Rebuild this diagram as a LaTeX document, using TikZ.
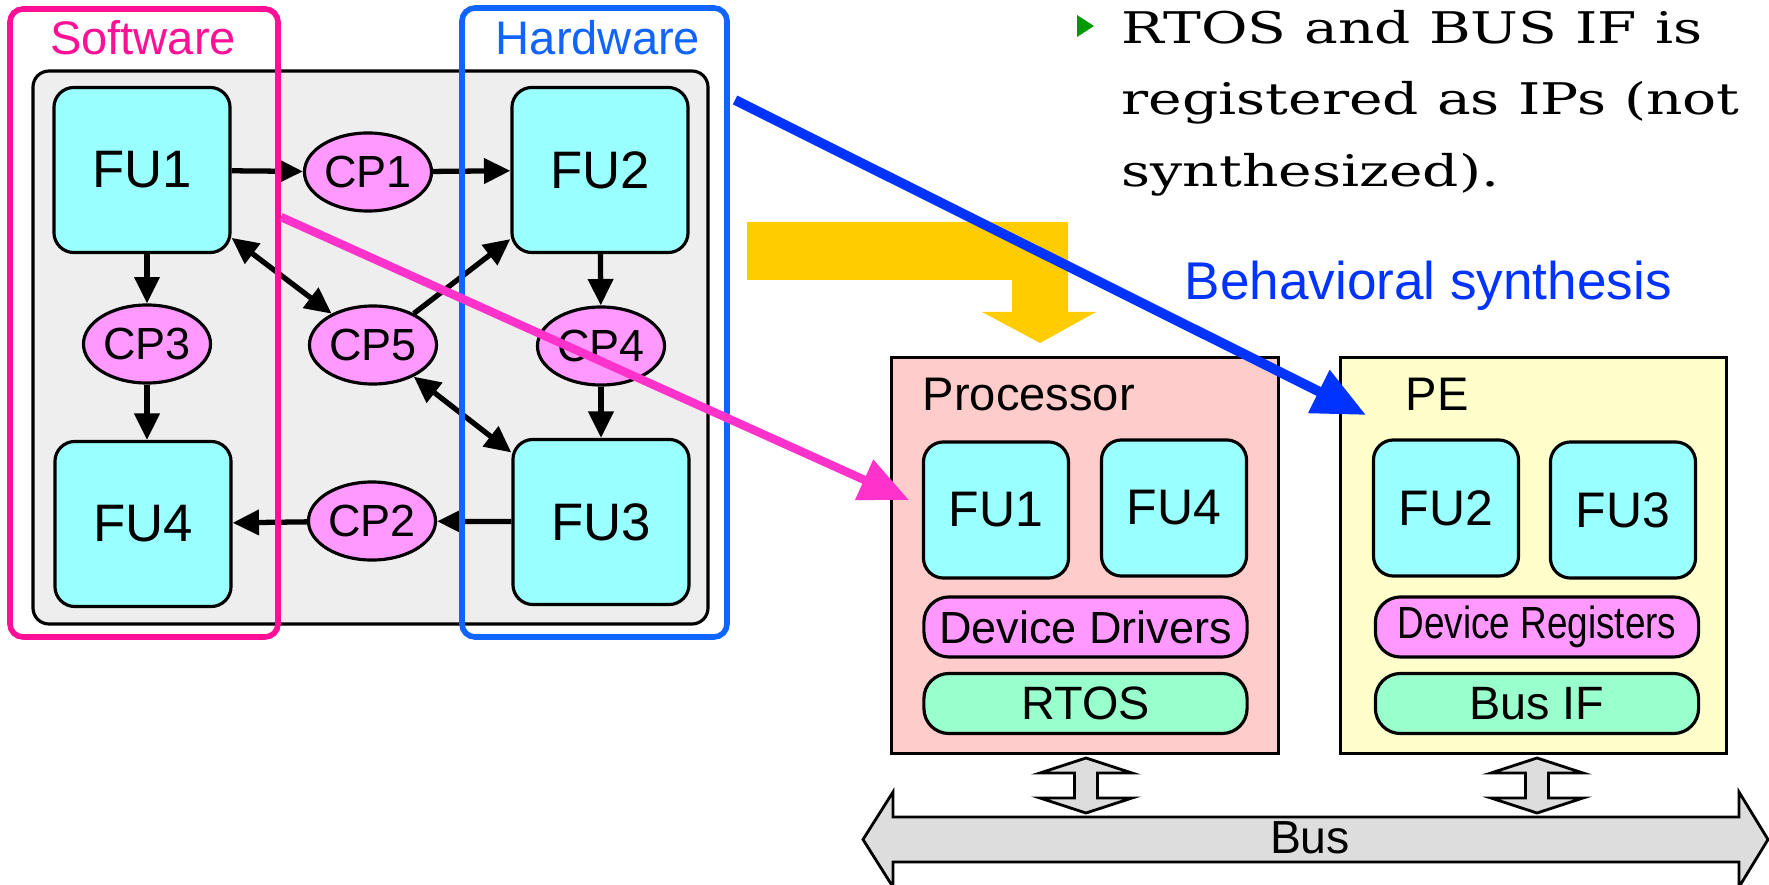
\documentclass[tikz,border=0pt]{standalone}
\usepackage{fontspec}
\usepackage{graphicx}
\setmainfont{Liberation Sans}
\newfontfamily\bodyserif[FakeStretch=1.30]{DejaVu Serif}
\usetikzlibrary{arrows.meta,shapes.geometric}
\definecolor{swpink}{RGB}{255,16,150}
\definecolor{hwblue}{RGB}{16,100,255}
\definecolor{panelgray}{RGB}{238,238,238}
\definecolor{fucyan}{RGB}{153,255,255}
\definecolor{cppink}{RGB}{255,153,255}
\definecolor{arrpink}{RGB}{255,51,204}
\definecolor{arrblue}{RGB}{0,51,255}
\definecolor{synyellow}{RGB}{255,204,0}
\definecolor{procfill}{RGB}{255,204,204}
\definecolor{pefill}{RGB}{255,255,204}
\definecolor{mint}{RGB}{153,255,204}
\definecolor{bulletgreen}{RGB}{0,153,0}
\definecolor{busgray}{RGB}{221,221,221}
\tikzset{
 fubox/.style={draw=black, line width=0.9pt, fill=fucyan, rounded corners=0.2cm, inner sep=0pt},
 bigfu/.style={fubox, minimum width=1.76cm, minimum height=1.65cm, font=\fontsize{15}{18}\selectfont},
 smallfu/.style={fubox, minimum width=1.45cm, minimum height=1.36cm, font=\fontsize{14.2}{17}\selectfont},
 cpell/.style={draw=black, line width=0.9pt, fill=cppink, ellipse, inner sep=0pt, minimum width=1.27cm, minimum height=0.78cm, font=\fontsize{12.8}{15}\selectfont},
 flow/.style={line width=1.5pt, -{Triangle[length=7.5pt,width=7pt]}},
 bothflow/.style={line width=1.5pt, {Triangle[length=7.5pt,width=7pt]}-{Triangle[length=7.5pt,width=7pt]}},
 group/.style={line width=1.6pt, rounded corners=0.13cm},
 bar/.style={draw=black, line width=0.9pt, rounded corners=0.25cm, inner sep=0pt, minimum width=3.23cm, minimum height=0.6cm, font=\fontsize{12.8}{15}\selectfont},
 ppanel/.style={draw=black, line width=0.9pt, inner sep=0pt, minimum width=3.86cm, minimum height=3.95cm},
 lbl/.style={inner sep=0pt, anchor=base west, font=\fontsize{13.4}{16}\selectfont},
 bigarr/.style={draw=black, line width=0.8pt, fill=busgray},
 serifline/.style={inner sep=0pt, anchor=base west, font=\bodyserif\fontsize{12.4}{14}\selectfont},
}
\begin{document}
\begin{tikzpicture}[x=0.01cm,y=-0.01cm]
\useasboundingbox (0,0) rectangle (1769,885);
% left panel
\draw[line width=0.9pt, fill=panelgray, rounded corners=0.16cm] (33,71) rectangle (708,624);
\node[bigfu] (fu1) at (142,170) {FU1};
\node[bigfu] (fu2) at (600,170) {FU2};
\node[bigfu] (fu4) at (143,524) {FU4};
\node[bigfu] (fu3) at (601,522) {FU3};
\node[cpell] (cp1) at (368,172) {CP1};
\node[cpell] (cp3) at (147,344) {CP3};
\node[cpell] (cp5) at (373,345) {CP5};
\node[cpell] (cp4) at (601,346) {CP4};
\node[cpell] (cp2) at (372,521) {CP2};
\draw[flow] (fu1) -- (cp1);
\draw[flow] (cp1) -- (fu2);
\draw[flow] (fu1.south -| cp3) -- (cp3);
\draw[flow] (cp3) -- (fu4.north -| cp3);
\draw[flow] (fu2) -- (cp4);
\draw[flow] (cp4) -- (fu3);
\draw[flow] (fu3) -- (cp2);
\draw[flow] (cp2) -- (fu4);
\draw[bothflow] (fu1) -- (cp5);
\draw[flow] (cp5) -- (fu2);
\draw[bothflow] (cp5) -- (fu3);
\draw[group, swpink] (10,9) rectangle (278,637);
\draw[group, hwblue] (462,8) rectangle (727,637);
\node[inner sep=0pt, anchor=base, text=swpink, font=\fontsize{13.4}{16}\selectfont] (swlabel) at (143,55) {Software};
\node[inner sep=0pt, anchor=base, text=hwblue, font=\fontsize{13.4}{16}\selectfont] (hwlabel) at (598,55) {Hardware};
% bullet text
\fill[bulletgreen] (1077,15) -- (1094,26) -- (1077,37) -- cycle;
\node[serifline] (l1) at (1121,44) {RTOS and BUS IF is};
\node[serifline] (l2) at (1121,115) {registered as IPs (not};
\node[serifline] (l3) at (1121,187) {synthesized).};
% yellow synthesis arrow
\fill[synyellow] (747,222) -- (1068,222) -- (1068,312) -- (1096,312) -- (1040,343) -- (982,312) -- (1012,312) -- (1012,280) -- (747,280) -- cycle;
\node[inner sep=0pt, anchor=base west, text=arrblue, font=\fontsize{15.1}{18}\selectfont] (synth) at (1184,300) {Behavioral synthesis};
% right panel
\node[ppanel, fill=procfill] (proc) at (1085,555.5) {};
\node[ppanel, fill=pefill] (pe) at (1533.5,555.5) {};
\node[lbl] (proclabel) at (922,410) {Processor};
\node[lbl] (pelabel) at (1405,410) {PE};
\node[smallfu] (pfu1) at (996,510) {FU1};
\node[smallfu] (pfu4) at (1174,508) {FU4};
\node[smallfu] (efu2) at (1446,508) {FU2};
\node[smallfu] (efu3) at (1623,510) {FU3};
\node[bar, fill=cppink] (drv) at (1085.5,627) {Device Drivers};
\node[bar, fill=mint, font=\fontsize{13.3}{16}\selectfont] (rtos) at (1085.5,703.5) {RTOS};
\node[bar, fill=cppink] (regs) at (1537,627) {\scalebox{0.82}[1]{Device Registers}};
\node[bar, fill=mint, font=\fontsize{13.3}{16}\selectfont] (busif) at (1537,703.5) {Bus IF};
% bus connections
\foreach \cx in {1086,1537}{
 \draw[bigarr] (\cx,758) -- (\cx+46,773) -- (\cx+11.5,773) -- (\cx+11.5,798) -- (\cx+46,798) -- (\cx,813) -- (\cx-46,798) -- (\cx-11.5,798) -- (\cx-11.5,773) -- (\cx-46,773) -- cycle;
}
\draw[bigarr] (863,839.5) -- (893,792) -- (893,817) -- (1739,817) -- (1739,792) -- (1768,839.5) -- (1739,887) -- (1739,862) -- (893,862) -- (893,887) -- cycle;
\node[inner sep=0pt, anchor=base, font=\fontsize{13.2}{16}\selectfont] (bus) at (1310,853) {Bus};
% mapping arrows
\coordinate (pinkstart) at (281,217);
\coordinate (pinkend) at (909,500);
\draw[line width=2.4pt, arrpink, -{Triangle[length=14pt,width=12pt]}] (pinkstart) -- (pinkend);
\coordinate (bluestart) at (735,100);
\coordinate (blueend) at (1366,415);
\draw[line width=2.8pt, arrblue, -{Triangle[length=15pt,width=13pt]}] (bluestart) -- (blueend);
\end{tikzpicture}
\end{document}
